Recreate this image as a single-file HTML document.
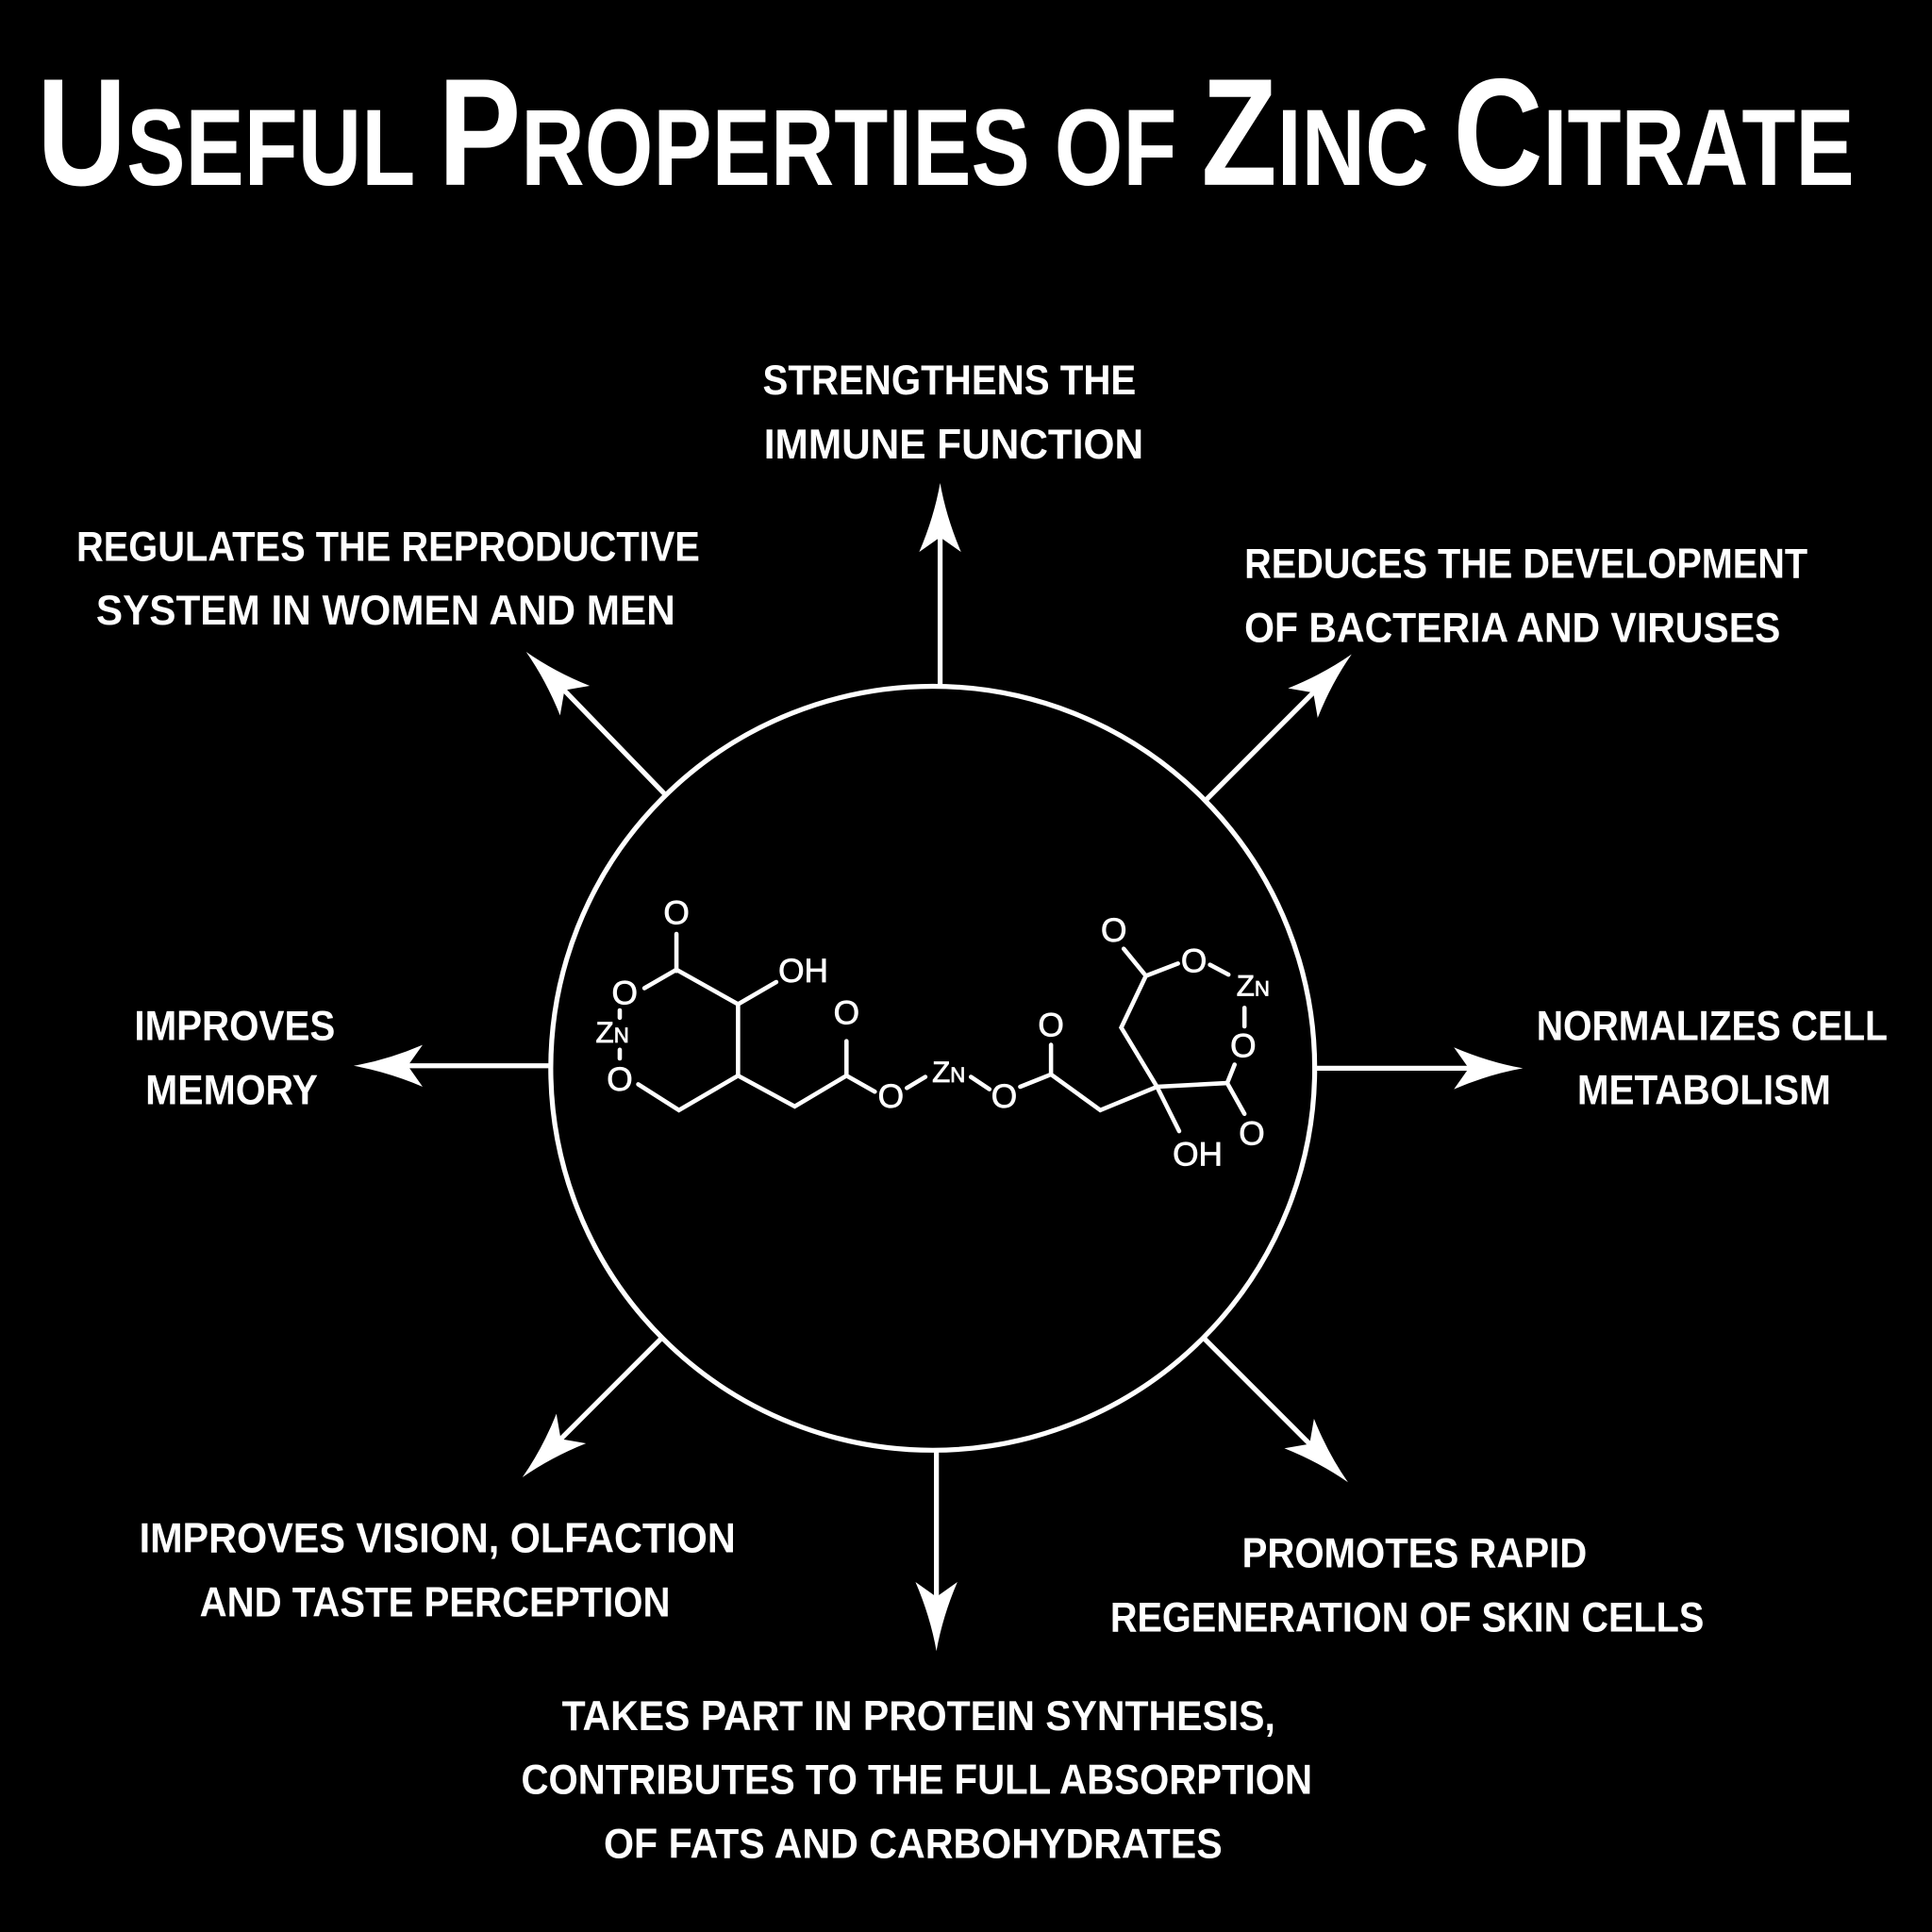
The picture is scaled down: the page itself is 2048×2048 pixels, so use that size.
<!DOCTYPE html>
<html><head><meta charset="utf-8"><style>
html,body{margin:0;padding:0;background:#000;}
svg{display:block;}
.t{font-family:"Liberation Sans",sans-serif;font-weight:bold;fill:#fff;font-size:34px;}
.m{font-family:"Liberation Sans",sans-serif;fill:#fff;font-size:27px;text-anchor:middle;stroke:#fff;stroke-width:0.6;}
</style></head><body>
<svg width="2048" height="2048" viewBox="0 0 1568 1568" xmlns="http://www.w3.org/2000/svg">
<rect width="1568" height="1568" fill="#000"/>
<defs>
<path id="ah" d="M0,0 Q-28,-5 -56,-17 L-44,0 L-56,17 Q-28,5 0,0 Z" fill="#fff"/>
</defs>
<text x="30" y="150" fill="#fff" font-family="Liberation Sans,sans-serif" font-weight="bold" textLength="1475" lengthAdjust="spacingAndGlyphs"><tspan font-size="124">U</tspan><tspan font-size="88">SEFUL </tspan><tspan font-size="124">P</tspan><tspan font-size="88">ROPERTIES OF </tspan><tspan font-size="124">Z</tspan><tspan font-size="88">INC </tspan><tspan font-size="124">C</tspan><tspan font-size="88">ITRATE</tspan></text>

<circle cx="757" cy="867" r="310" fill="none" stroke="#fff" stroke-width="4"/>
<g stroke="#fff" stroke-width="4">
<line x1="763" y1="557" x2="763" y2="420"/>
<line x1="760" y1="1177" x2="760" y2="1312"/>
<line x1="447" y1="865" x2="315" y2="865"/>
<line x1="1068" y1="867" x2="1210" y2="867"/>
<line x1="540" y1="645" x2="448" y2="550"/>
<line x1="978" y1="650" x2="1078" y2="550"/>
<line x1="538" y1="1085" x2="445" y2="1178"/>
<line x1="976" y1="1085" x2="1073" y2="1182"/>
</g>
<use href="#ah" transform="translate(763,392) rotate(-90)"/>
<use href="#ah" transform="translate(760,1340) rotate(90)"/>
<use href="#ah" transform="translate(287,865) rotate(180)"/>
<use href="#ah" transform="translate(1236,867)"/>
<use href="#ah" transform="translate(427,529) rotate(-135)"/>
<use href="#ah" transform="translate(1097,531) rotate(-45)"/>
<use href="#ah" transform="translate(424,1199) rotate(135)"/>
<use href="#ah" transform="translate(1094,1203) rotate(45)"/>

<g class="t">
<text x="619" y="320" textLength="303" lengthAdjust="spacingAndGlyphs">STRENGTHENS THE</text>
<text x="620" y="372" textLength="308" lengthAdjust="spacingAndGlyphs">IMMUNE FUNCTION</text>
<text x="62" y="455" textLength="506" lengthAdjust="spacingAndGlyphs">REGULATES THE REPRODUCTIVE</text>
<text x="78" y="507" textLength="470" lengthAdjust="spacingAndGlyphs">SYSTEM IN WOMEN AND MEN</text>
<text x="1010" y="469" textLength="457" lengthAdjust="spacingAndGlyphs">REDUCES THE DEVELOPMENT</text>
<text x="1010" y="521" textLength="435" lengthAdjust="spacingAndGlyphs">OF BACTERIA AND VIRUSES</text>
<text x="109" y="844" textLength="163" lengthAdjust="spacingAndGlyphs">IMPROVES</text>
<text x="118" y="896" textLength="140" lengthAdjust="spacingAndGlyphs">MEMORY</text>
<text x="1247" y="844" textLength="285" lengthAdjust="spacingAndGlyphs">NORMALIZES CELL</text>
<text x="1280" y="896" textLength="206" lengthAdjust="spacingAndGlyphs">METABOLISM</text>
<text x="113" y="1260" textLength="484" lengthAdjust="spacingAndGlyphs">IMPROVES VISION, OLFACTION</text>
<text x="162" y="1312" textLength="382" lengthAdjust="spacingAndGlyphs">AND TASTE PERCEPTION</text>
<text x="1008" y="1272" textLength="280" lengthAdjust="spacingAndGlyphs">PROMOTES RAPID</text>
<text x="901" y="1324" textLength="482" lengthAdjust="spacingAndGlyphs">REGENERATION OF SKIN CELLS</text>
<text x="456" y="1404" textLength="579" lengthAdjust="spacingAndGlyphs">TAKES PART IN PROTEIN SYNTHESIS,</text>
<text x="423" y="1456" textLength="642" lengthAdjust="spacingAndGlyphs">CONTRIBUTES TO THE FULL ABSORPTION</text>
<text x="490" y="1508" textLength="502" lengthAdjust="spacingAndGlyphs">OF FATS AND CARBOHYDRATES</text>
</g>

<g stroke="#fff" stroke-width="3.5" fill="none" stroke-linecap="round">
<line x1="549" y1="758" x2="549" y2="788"/>
<polyline points="523,802 549,787 599,815 599,873 551,901 518,880"/>
<line x1="599" y1="815" x2="630" y2="797"/>
<line x1="503" y1="820" x2="503" y2="826"/>
<line x1="503" y1="852" x2="503" y2="859"/>
<polyline points="599,873 645,898 687,873 710,886"/>
<line x1="687" y1="873" x2="687" y2="845"/>
<line x1="736" y1="883" x2="751" y2="874"/>
<line x1="788" y1="874" x2="803" y2="884"/>
<polyline points="828,882 853,872 893,901 939,882 996,879"/>
<line x1="853" y1="872" x2="853" y2="848"/>
<line x1="939" y1="882" x2="957" y2="918"/>
<polyline points="939,882 910,834 930,792 956,782"/>
<line x1="930" y1="792" x2="912" y2="770"/>
<line x1="996" y1="879" x2="1010" y2="904"/>
<line x1="996" y1="879" x2="1002" y2="864"/>
<line x1="1010" y1="818" x2="1010" y2="833"/>
<line x1="982" y1="783" x2="997" y2="791"/>
</g>
<g class="m">
<text x="549" y="750">O</text>
<text x="507" y="815">O</text>
<text x="503" y="885">O</text>
<text x="652" y="797">OH</text>
<text x="687" y="831">O</text>
<text x="723" y="899">O</text>
<text x="815" y="899">O</text>
<text x="853" y="841">O</text>
<text x="904" y="764">O</text>
<text x="969" y="789">O</text>
<text x="1009" y="858">O</text>
<text x="1016" y="929">O</text>
<text x="972" y="946">OH</text>
<text x="497" y="846" font-size="24">Z<tspan font-size="17">N</tspan></text>
<text x="770" y="878" font-size="24">Z<tspan font-size="17">N</tspan></text>
<text x="1017" y="808" font-size="24">Z<tspan font-size="17">N</tspan></text>
</g>
</svg>
</body></html>
